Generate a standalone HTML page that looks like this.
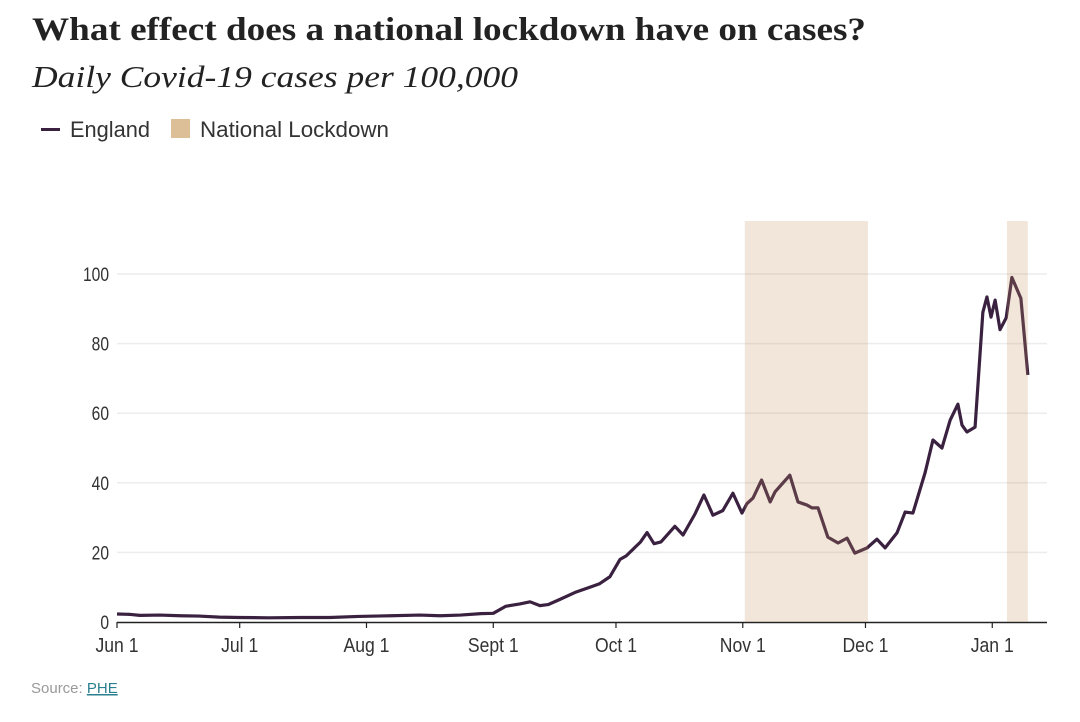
<!DOCTYPE html>
<html><head><meta charset="utf-8"><style>
body{margin:0;background:#fff;width:1080px;height:717px;overflow:hidden;font-family:"Liberation Sans",sans-serif}
</style></head><body>
<svg width="1080" height="717" xmlns="http://www.w3.org/2000/svg">
<text x="32" y="40" font-family="Liberation Serif" font-weight="bold" font-size="33" fill="#222" textLength="834" lengthAdjust="spacingAndGlyphs">What effect does a national lockdown have on cases?</text>
<text x="32" y="87" font-family="Liberation Serif" font-style="italic" font-size="31" fill="#222" textLength="486" lengthAdjust="spacingAndGlyphs">Daily Covid-19 cases per 100,000</text>
<g>
<rect x="41" y="128" width="19" height="3" fill="#3a2140"/>
<text x="70" y="137" font-size="22" fill="#333" textLength="80" lengthAdjust="spacingAndGlyphs">England</text>
<rect x="171" y="119" width="19" height="19" fill="#dcbf96"/>
<text x="200" y="137" font-size="22" fill="#333" textLength="189" lengthAdjust="spacingAndGlyphs">National Lockdown</text>
</g>
<g id="plot"></g>
<text x="31" y="693" font-size="15" fill="#999">Source: <tspan fill="#2a7f8f" text-decoration="underline">PHE</tspan></text>
</svg>
<script>
const days=[0,3,5.6,10.5,15.4,20,25,30,37,45,52,59,67,74,79,84,89,92,95,98.5,101,103.4,105.4,108.3,112,115.6,118,120.5,123,124.5,128,129.6,131.3,133,136.4,138.4,141.3,143.5,145.7,148.1,150.6,152.8,154,155.5,157.6,159.7,160.9,164.5,166.5,168.7,169.9,171.4,173.8,176.3,178.5,180.4,183.4,185.8,187.8,190.7,192.7,194.6,197.6,199.5,201.7,203.7,205.6,206.6,207.8,209.8,211.7,212.7,213.7,214.7,215.9,217.4,218.8,221,222.7];
const cases=[2.3,2.2,1.9,2,1.8,1.7,1.4,1.3,1.2,1.3,1.3,1.6,1.8,2,1.8,2,2.4,2.5,4.5,5.2,5.8,4.7,5,6.5,8.5,10,11,13,18,19,23,25.7,22.5,23,27.5,25,31,36.5,30.7,32,37,31.3,34,35.6,40.8,34.5,37.4,42.2,34.5,33.6,32.8,32.8,24.4,22.7,24.1,19.8,21.3,23.8,21.3,25.6,31.6,31.3,43,52.3,50,58,62.6,56.6,54.6,56,89,93.4,87.6,92.5,84,87.4,99,93,71];
const lockStart=[153.5,217.6];
const lockEnd=[183.6,222.7];
const yTicks=[0,20,40,60,80,100];
const xTickDays=[0,30,61,92,122,153,183,214];
const xTickLabels=["Jun 1","Jul 1","Aug 1","Sept 1","Oct 1","Nov 1","Dec 1","Jan 1"];
const X=d=>117+d*4.09, Y=v=>622-v*3.48;
const g=document.getElementById('plot'),NS="http://www.w3.org/2000/svg";
function mk(t,a){const e=document.createElementNS(NS,t);for(const k in a)e.setAttribute(k,a[k]);g.appendChild(e);return e;}
yTicks.forEach(v=>{
 if(v>0){const l=mk('line',{x1:117,x2:1047,y1:Y(v),y2:Y(v),stroke:'#ececec','stroke-width':1.5});
 
 }
 const t=mk('text',{x:109,y:Y(v)+7,'text-anchor':'end','font-size':19,fill:'#333',transform:'translate(109 0) scale(0.82 1) translate(-109 0)'});t.textContent=v;
 
 
});
const ax=mk('line',{x1:117,x2:1047,y1:622.5,y2:622.5,stroke:'#222','stroke-width':1.5});


xTickDays.forEach((d,i)=>{
 const tk=mk('line',{x1:X(d),x2:X(d),y1:622,y2:628,stroke:'#222','stroke-width':1.2});
 
 
 const t=mk('text',{x:X(d),y:652,'text-anchor':'middle','font-size':20,fill:'#333',transform:'translate('+X(d)+' 0) scale(0.88 1) translate('+(-X(d))+' 0)'});t.textContent=xTickLabels[i];
 
 
});
const p=mk('polyline',{points:days.map((d,i)=>X(d)+','+Y(cases[i])).join(' '),fill:'none',stroke:'#3a2140','stroke-width':3.2,'stroke-linejoin':'round'});


lockStart.forEach((s,i)=>{
 const r=mk('rect',{x:X(s),y:221,width:X(lockEnd[i])-X(s),height:401,fill:'rgb(199,147,94)','fill-opacity':0.23});
 
 
});
</script>
</body></html>
